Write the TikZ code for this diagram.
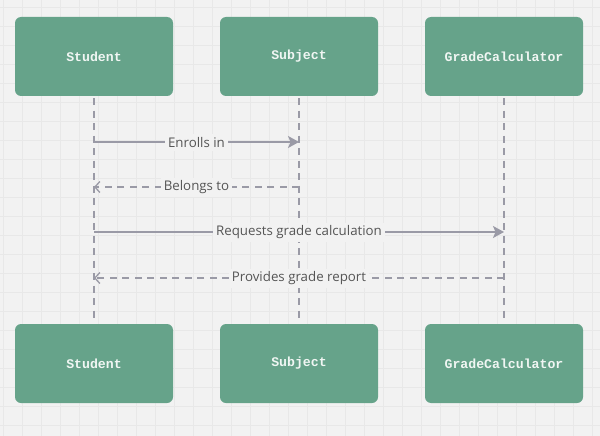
\documentclass[tikz,border=0pt]{standalone}
\usepackage{fontspec}
\setmainfont{Open Sans}
\newfontfamily\boxfont{Liberation Mono}
\usetikzlibrary{arrows.meta}
\definecolor{bg}{HTML}{F2F2F2}
\definecolor{gridc}{HTML}{E8E8E8}
\definecolor{boxc}{HTML}{66A38A}
\definecolor{linec}{HTML}{9A9AA6}
\definecolor{txtc}{HTML}{555555}
\tikzset{
  actor/.style={fill=boxc, rounded corners=6pt, minimum width=158pt, minimum height=79pt,
    text=white!90!boxc, font=\boxfont\fontsize{13.2}{15}\selectfont\bfseries, inner sep=0pt},
  lifeline/.style={draw=linec, line width=1.3pt, dash pattern=on 7pt off 5.5pt},
  msgsolid/.style={draw=linec, line width=1.6pt, -{Stealth[length=11pt,width=12pt,inset=2.5pt]}},
  msgdash/.style={draw=linec, line width=1.3pt, dash pattern=on 7pt off 5.5pt, -{Straight Barb[length=5pt,width=11pt]}},
  msglabel/.style={fill=bg, text=txtc, font=\fontsize{13.3}{15}\selectfont, inner sep=3pt},
}
\begin{document}
\begin{tikzpicture}[x=1pt,y=-1pt]
\fill[bg] (0,0) rectangle (600,436);
\useasboundingbox (0,0) rectangle (600,436);
\foreach \i in {0,...,31} {\draw[gridc, line width=0.8pt] ({3.3+19*\i},0) -- ({3.3+19*\i},436);}
\foreach \i in {0,...,22} {\draw[gridc, line width=0.8pt] (0,{7.7+19*\i}) -- (600,{7.7+19*\i});}

\node[actor] (st) at (94,56.5) {Student};
\node[actor] (su) at (299,56.5) {Subject};
\node[actor] (gc) at (504,56.5) {GradeCalculator};
\node[actor] (stb) at (94,363.5) {Student};
\node[actor] (sub) at (299,363.5) {Subject};
\node[actor] (gcb) at (504,363.5) {GradeCalculator};

\coordinate (stend) at (94,318);
\coordinate (suend) at (299,318);
\coordinate (gcend) at (504,318);
\draw[lifeline] (st.south) ++(0,2) -- (stend);
\draw[lifeline] (su.south) ++(0,2) -- (suend);
\draw[lifeline] (gc.south) ++(0,2) -- (gcend);

\coordinate (a1) at (94,142); \coordinate (b1) at (299,142);
\coordinate (a2) at (299,187); \coordinate (b2) at (94,187);
\coordinate (a3) at (94,232); \coordinate (b3) at (504,232);
\coordinate (a4) at (504,278); \coordinate (b4) at (94,278);

\draw[msgsolid] (a1) -- node[msglabel, yshift=-0.5pt] {Enrolls in} (b1);
\draw[msgdash] (a2) -- node[msglabel, yshift=-0.5pt] {Belongs to} (b2);
\draw[msgsolid] (a3) -- node[msglabel, yshift=-0.5pt] {Requests grade calculation} (b3);
\draw[msgdash] (a4) -- node[msglabel, yshift=-0.5pt] {Provides grade report} (b4);
\end{tikzpicture}
\end{document}
